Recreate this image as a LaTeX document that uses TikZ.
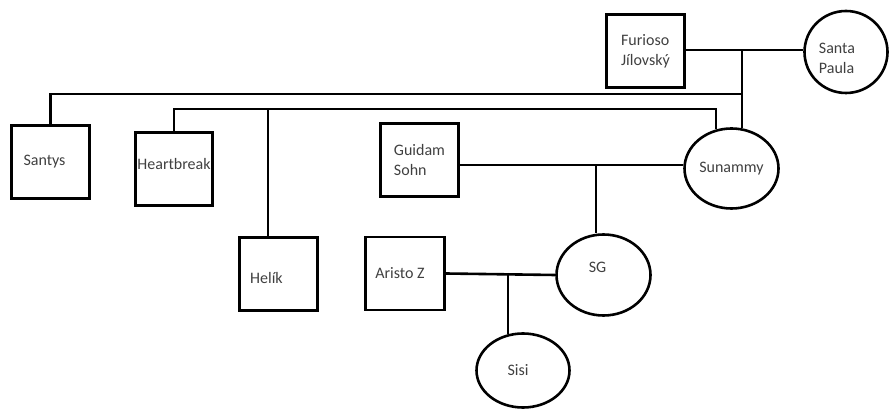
\documentclass[tikz,border=0pt]{standalone}
\usepackage{fontspec}
\setmainfont{Carlito}
\usetikzlibrary{positioning,shapes.geometric}

\tikzset{
  txt/.style={align=left, font=\fontsize{16}{20}\selectfont, text=black!75, inner sep=0pt},
  male/.style={draw, rectangle, line width=2.6pt, minimum width=78pt, minimum height=73pt, inner sep=0pt},
  female/.style={draw, ellipse, line width=2.6pt, inner sep=0pt},
  link/.style={line width=2.6pt}
}

\begin{document}
\begin{tikzpicture}[x=1pt, y=-1pt]
    \useasboundingbox (0,0) rectangle (891,411);

    % Parents
    \node[male, label={[txt]center:Furioso\\Jílovský}] (furioso) at (645.5,51) {};
    \node[female, minimum width=83pt, minimum height=82pt,
          label={[txt, xshift=-9pt, yshift=-6pt]center:Santa\\Paula}] (santa) at (846,52) {};

    % Children
    \node[male, label={[txt, xshift=-6pt]center:Santys}] (santys) at (50.5,162) {};
    \node[male, minimum width=77pt, label={[txt, yshift=5pt]center:Heartbreak}] (heartbreak) at (174,169) {};
    \node[male, label={[txt, xshift=-12pt, yshift=-4pt]center:Helík}] (helik) at (278.5,274) {};
    \node[female, minimum width=94pt, minimum height=80pt,
          label={[txt]center:Sunammy}] (sunammy) at (731.5,168.5) {};

    % Next generations
    \node[male, label={[txt]center:Guidam\\Sohn}] (guidam) at (419.5,160) {};
    \node[female, minimum width=94pt, minimum height=81pt,
          label={[txt, xshift=-6pt, yshift=8pt]center:SG}] (sg) at (603.5,275) {};
    \node[male, minimum width=79pt, label={[txt, xshift=-5pt]center:Aristo Z}] (aristo) at (405,273.5) {};
    \node[female, minimum width=93pt, minimum height=74pt,
          label={[txt, xshift=-5pt]center:Sisi}] (sisi) at (523,370.5) {};

    % Couple and sibling lines
    \coordinate (fs) at (742,50);
    \coordinate (sib1) at (742,94);
    \coordinate (sib2) at (716,109);
    \coordinate (helikdrop) at (268,109);
    \coordinate (gs) at (596,165);
    \coordinate (as) at (508,273);

    \draw[link] (furioso.east |- fs) -- (santa.west |- fs);
    \draw[link] (fs) -- (fs |- sunammy.75);
    \draw[link] (santys.north) |- (sib1);
    \draw[link] (heartbreak.north) |- (sib2) -- (sib2 |- sunammy.110);
    \draw[link] (helikdrop) -- (helikdrop |- helik.north);

    \draw[link] (guidam.east |- gs) -- (sunammy.west |- gs);
    \draw[link] (gs) -- (gs |- sg.north);
    \draw[link] (aristo.east) -- (sg.west);
    \draw[link] (as) -- (as |- sisi.110);
\end{tikzpicture}
\end{document}
